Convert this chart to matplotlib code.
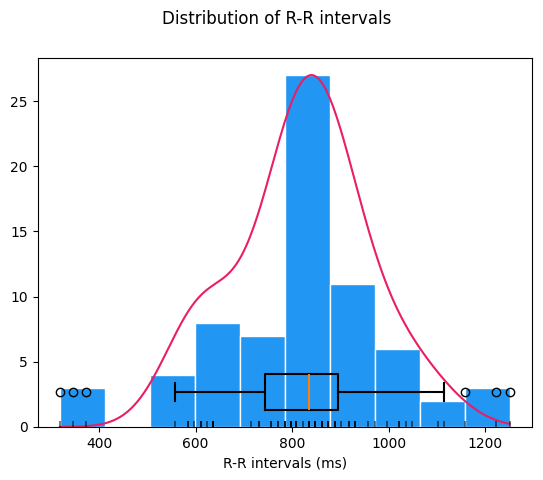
import numpy as np
import matplotlib
matplotlib.use('Agg')
import matplotlib.pyplot as plt

rr_values = [319, 345, 372, 558, 584, 596, 611, 624, 636, 715, 731, 755, 770,
             785, 797, 808, 823, 835, 848, 861, 875, 888, 902, 917, 929, 957,
             971, 996, 1021, 1035, 1047, 1102, 1115, 1158, 1221, 1250]
rr_counts = [1, 1, 1, 1, 2, 1, 3, 1, 4, 1, 2, 2, 2,
             3, 4, 4, 1, 4, 4, 4, 3, 4, 1, 2, 3, 1,
             1, 1, 2, 1, 1, 1, 1, 1, 1, 1]

rr = np.repeat(rr_values, rr_counts).astype(float)

bar_color = '#2196F3'
line_color = '#E91E63'

fig = plt.figure(figsize=(5.43, 4.8), dpi=100)
ax = fig.add_axes([37.5 / 543, 53 / 480, (532 - 37.5) / 543, (427 - 57.5) / 480])

counts, edges, _ = ax.hist(rr, bins=10, color=bar_color, edgecolor='white')

q1, q3 = np.percentile(rr, [25, 75])
iqr = q3 - q1
inliers = rr[(rr >= q1 - 1.5 * iqr) & (rr <= q3 + 1.5 * iqr)]

# gaussian kde of the inliers, scaled to the tallest bar
bw = 1.25 * inliers.std(ddof=1) * len(inliers) ** (-1 / 5)
xs = np.linspace(rr.min(), rr.max(), 400)
dens = np.exp(-0.5 * ((xs[:, None] - inliers[None, :]) / bw) ** 2).sum(axis=1)
dens = dens / dens.max() * counts.max()
ax.plot(xs, dens, color=line_color, lw=1.5)

ax.boxplot(rr, vert=False, positions=[2.7], widths=2.8, manage_ticks=False,
           boxprops=dict(lw=1.5), whiskerprops=dict(lw=1.5),
           capprops=dict(lw=1.5), medianprops=dict(lw=1.5))

ax.plot(rr, np.zeros_like(rr), '|', color='black', alpha=0.6, ms=9, mew=1.2)

ax.set_xlabel('R-R intervals (ms)')
fig.suptitle('Distribution of R-R intervals', x=0.51)

plt.savefig('out.png')
